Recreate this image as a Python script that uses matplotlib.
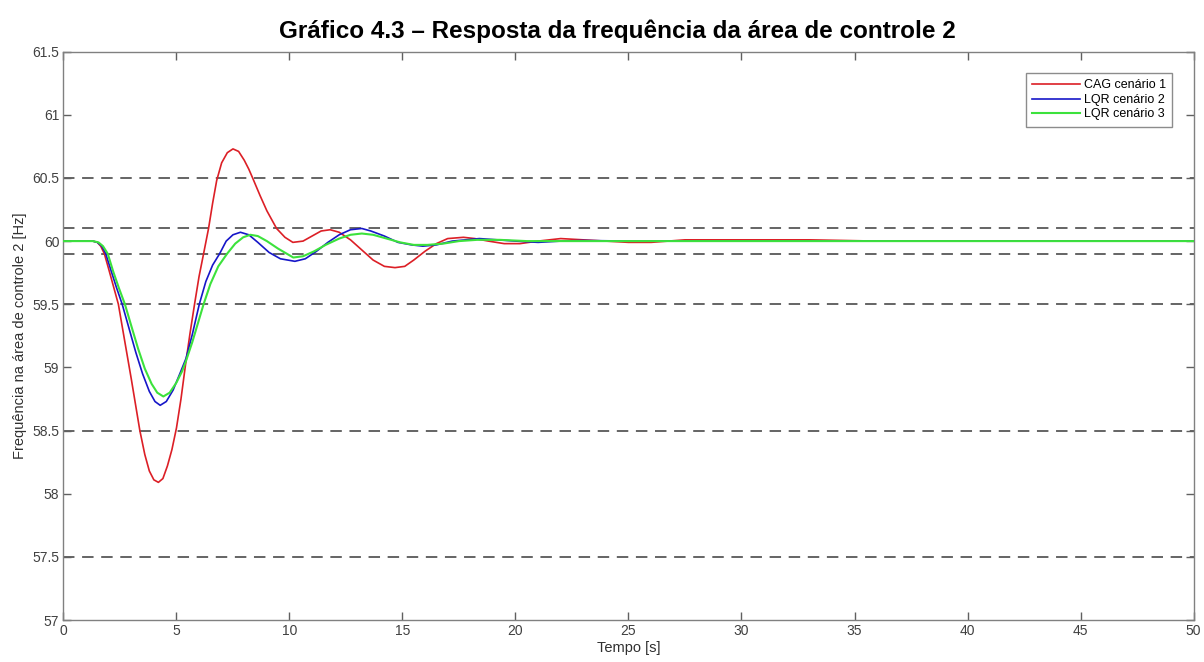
import matplotlib
matplotlib.use("Agg")
import matplotlib.pyplot as plt

plt.rcParams['font.family'] = ['Liberation Sans', 'DejaVu Sans']

# ---- data ----
t_cag = [0, 1.3, 1.5, 1.65, 1.81, 2.0, 2.2, 2.43, 2.7, 3.0, 3.38, 3.6, 3.8, 4.0, 4.2,
         4.4, 4.6, 4.8, 5.0, 5.2, 5.4, 5.6, 5.8, 6.0, 6.2, 6.42, 6.6, 6.78, 7.0, 7.25,
         7.5, 7.75, 8.0, 8.2, 8.37, 8.7, 9.0, 9.43, 9.8, 10.15, 10.6, 11.0, 11.4, 11.8,
         12.2, 12.7, 13.2, 13.7, 14.2, 14.67, 15.1, 15.5, 16.0, 16.5, 17.0, 17.7, 18.2,
         18.8, 19.5, 20.2, 21.0, 22.0, 23.0, 24.0, 25.0, 26.0, 27.5, 29.0, 31.0, 33.0,
         36.0, 50.0]
f_cag = [60.0, 60.0, 59.99, 59.96, 59.90, 59.78, 59.65, 59.50, 59.22, 58.91, 58.50, 58.31,
         58.18, 58.11, 58.09, 58.12, 58.22, 58.35, 58.52, 58.75, 59.02, 59.27, 59.50, 59.72,
         59.90, 60.10, 60.30, 60.48, 60.62, 60.70, 60.73, 60.71, 60.64, 60.57, 60.50, 60.36,
         60.24, 60.10, 60.03, 59.99, 60.00, 60.04, 60.08, 60.09, 60.07, 60.01, 59.93, 59.85,
         59.80, 59.79, 59.80, 59.85, 59.92, 59.98, 60.02, 60.03, 60.02, 60.00, 59.98, 59.98,
         60.00, 60.02, 60.01, 60.00, 59.99, 59.99, 60.01, 60.01, 60.01, 60.01, 60.0, 60.0]

t_lqr2 = [0, 1.3, 1.5, 1.7, 1.87, 2.1, 2.35, 2.6, 2.9, 3.2, 3.5, 3.8, 4.05, 4.28, 4.55,
          4.85, 5.15, 5.42, 5.7, 6.01, 6.3, 6.6, 6.91, 7.2, 7.5, 7.83, 8.2, 8.6, 9.1, 9.6,
          10.24, 10.7, 11.2, 11.7, 12.2, 12.7, 13.2, 13.6, 14.2, 14.8, 15.4, 15.9, 16.5,
          17.2, 17.8, 18.4, 19.2, 20.0, 21.0, 22.0, 23.0, 25.0, 50.0]
f_lqr2 = [60.0, 60.0, 59.99, 59.96, 59.90, 59.77, 59.63, 59.50, 59.31, 59.12, 58.95, 58.81,
          58.73, 58.70, 58.73, 58.82, 58.95, 59.07, 59.26, 59.50, 59.68, 59.81, 59.90, 60.00,
          60.05, 60.07, 60.05, 59.99, 59.91, 59.86, 59.84, 59.86, 59.92, 59.99, 60.05, 60.09,
          60.10, 60.08, 60.04, 59.99, 59.97, 59.96, 59.97, 60.00, 60.01, 60.02, 60.01, 60.00,
          59.99, 60.00, 60.005, 60.0, 60.0]

t_lqr3 = [0, 1.3, 1.55, 1.75, 1.96, 2.2, 2.45, 2.72, 3.0, 3.3, 3.6, 3.9, 4.15, 4.42, 4.7,
          5.0, 5.25, 5.42, 5.7, 6.2, 6.5, 6.85, 7.24, 7.6, 7.95, 8.27, 8.6, 9.0, 9.5, 10.17,
          10.6, 11.1, 11.6, 12.2, 12.7, 13.2, 13.7, 14.3, 14.9, 15.5, 16.1, 16.8, 17.5, 18.3,
          19.3, 20.5, 22.0, 50.0]
f_lqr3 = [60.0, 60.0, 59.99, 59.96, 59.90, 59.76, 59.63, 59.50, 59.33, 59.15, 58.99, 58.87,
          58.80, 58.77, 58.80, 58.88, 58.97, 59.05, 59.20, 59.50, 59.66, 59.80, 59.90, 59.98,
          60.03, 60.05, 60.04, 60.00, 59.94, 59.87, 59.88, 59.92, 59.97, 60.02, 60.05, 60.06,
          60.05, 60.02, 59.99, 59.97, 59.97, 59.98, 60.00, 60.01, 60.01, 60.00, 60.0, 60.0]

ref_levels = [60.5, 60.1, 59.9, 59.5, 58.5, 57.5]
series_labels = ['CAG cenário 1', 'LQR cenário 2', 'LQR cenário 3']
x_ticks = [0, 5, 10, 15, 20, 25, 30, 35, 40, 45, 50]
y_ticks = [57, 57.5, 58, 58.5, 59, 59.5, 60, 60.5, 61, 61.5]

# ---- figure ----
fig = plt.figure(figsize=(12.04, 6.62), dpi=100)
ax = fig.add_axes([0.0527, 0.0634, 0.9386, 0.8586])

for lv in ref_levels:
    ax.axhline(lv, color='#3a3a3a', lw=1.1, linestyle=(0, (7.5, 5)), zorder=1)

ax.plot(t_cag, f_cag, color='#dc1f26', lw=1.2, label=series_labels[0], zorder=3)
ax.plot(t_lqr2, f_lqr2, color='#1616c8', lw=1.2, label=series_labels[1], zorder=3)
ax.plot(t_lqr3, f_lqr3, color='#3ce23c', lw=1.5, label=series_labels[2], zorder=4)

ax.set_xlim(0, 50)
ax.set_ylim(57, 61.5)
ax.set_xticks(x_ticks)
ax.set_yticks(y_ticks)
ax.set_xticklabels([str(v) for v in x_ticks])
ax.set_yticklabels(['57', '57.5', '58', '58.5', '59', '59.5', '60', '60.5', '61', '61.5'])

for sp in ax.spines.values():
    sp.set_color('#808080')
    sp.set_linewidth(1.0)
ax.tick_params(direction='in', length=6, width=1.0, color='#606060',
               top=True, right=True, labelsize=10, labelcolor='#404040', pad=3)

ax.set_xlabel('Tempo [s]', fontsize=10.5, color='#303030', labelpad=2)
ax.set_ylabel('Frequência na área de controle 2 [Hz]', fontsize=10.5, color='#303030', labelpad=4)

fig.suptitle('Gráfico 4.3 – Resposta da frequência da área de controle 2',
             fontsize=17.5, fontweight='bold', x=0.5125, y=0.97)

leg = ax.legend(loc='upper right', bbox_to_anchor=(0.981, 0.962), fontsize=9,
                frameon=True, fancybox=False, edgecolor='#707070', handlelength=3.8,
                handletextpad=0.3, borderpad=0.5, labelspacing=0.2, borderaxespad=0)
leg.get_frame().set_linewidth(1.0)

fig.savefig('out.png', dpi=100, facecolor='white')
